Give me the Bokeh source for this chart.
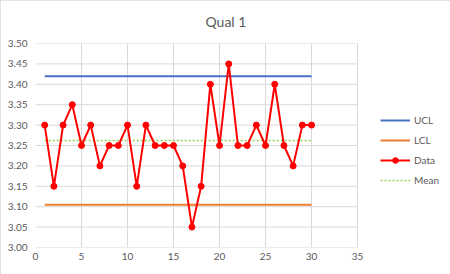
from bokeh.plotting import figure
from bokeh.models import Range1d, FixedTicker, NumeralTickFormatter, Legend, LegendItem
from bokeh.embed import file_html
from bokeh.resources import INLINE

# Data
sample = list(range(1, 31))
values = [3.30, 3.15, 3.30, 3.35, 3.25, 3.30, 3.20, 3.25, 3.25, 3.30,
          3.15, 3.30, 3.25, 3.25, 3.25, 3.20, 3.05, 3.15, 3.40, 3.25,
          3.45, 3.25, 3.25, 3.30, 3.25, 3.40, 3.25, 3.20, 3.30, 3.30]
ucl = 3.42
lcl = 3.105
mean = 3.262
x_ticks = [0, 5, 10, 15, 20, 25, 30, 35]
y_ticks = [3.00, 3.05, 3.10, 3.15, 3.20, 3.25, 3.30, 3.35, 3.40, 3.45, 3.50]
x_axis_min, x_axis_max = 0, 35

FONT = "Lato"
GRAY = "#595959"
GRID = "#d9d9d9"

# frame extends to the right edge so the legend (drawn in the frame) is visible;
# the visible axis area is 0..35, the rest of the range is legend space
p = figure(width=450, height=274, output_backend="svg", toolbar_location=None,
           x_range=Range1d(0, 45.1), y_range=Range1d(3.0, 3.5),
           min_border_left=35, min_border_right=0, min_border_top=43, min_border_bottom=27)
p.title.text = "Qual 1"
p.title.align = "left"
p.title.offset = 170
p.title.vertical_align = "top"
p.title.standoff = 24
p.title.text_font = FONT
p.title.text_font_size = "14px"
p.title.text_font_style = "normal"
p.title.text_color = GRAY
p.outline_line_color = None
p.styles = {"outline": "1px solid #d9d9d9", "outline-offset": "-1px"}

for ax in (p.xaxis[0], p.yaxis[0]):
    ax.axis_line_color = None
    ax.major_tick_in = 0
    ax.major_tick_out = 0
    ax.minor_tick_in = 0
    ax.minor_tick_out = 0
    ax.major_label_text_font = FONT
    ax.major_label_text_font_size = "10px"
    ax.major_label_text_color = GRAY
p.xaxis.ticker = FixedTicker(ticks=x_ticks)
p.yaxis.ticker = FixedTicker(ticks=y_ticks)
p.yaxis.formatter = NumeralTickFormatter(format="0.00")
p.yaxis.major_label_standoff = 8
p.xaxis.major_label_standoff = 5
p.xgrid.ticker = FixedTicker(ticks=x_ticks)
p.xgrid.grid_line_color = GRID
p.ygrid.grid_line_color = None
# horizontal gridlines limited to the 0..35 axis span
p.segment(x0=[x_axis_min] * len(y_ticks), x1=[x_axis_max] * len(y_ticks),
          y0=y_ticks, y1=y_ticks, line_color=GRID, line_width=1)

x0, x1 = sample[0], sample[-1]
r_ucl = p.line([x0, x1], [ucl, ucl], line_color="#4472C4", line_width=2)
r_lcl = p.line([x0, x1], [lcl, lcl], line_color="#ED7D31", line_width=2)
r_mean = p.line([x0, x1], [mean, mean], line_color="#92D050", line_width=1.5, line_dash="2 2")
r_data = p.line(sample, values, line_color="#FF0000", line_width=2)
r_pts = p.scatter(sample, values, size=6, fill_color="#FF0000", line_color="#FF0000")

legend = Legend(items=[
    LegendItem(label="UCL", renderers=[r_ucl]),
    LegendItem(label="LCL", renderers=[r_lcl]),
    LegendItem(label="Data", renderers=[r_data, r_pts]),
    LegendItem(label="Mean", renderers=[r_mean]),
], location=(345, 60))
legend.glyph_width = 30
legend.glyph_height = 14
legend.label_height = 14
legend.label_standoff = 4
legend.spacing = 6
legend.padding = 0
legend.margin = 0
legend.border_line_color = None
legend.background_fill_alpha = 0
legend.label_text_font = FONT
legend.label_text_font_size = "10px"
legend.label_text_color = GRAY
p.add_layout(legend, "center")

open("out.html", "w").write(file_html(p, INLINE))
